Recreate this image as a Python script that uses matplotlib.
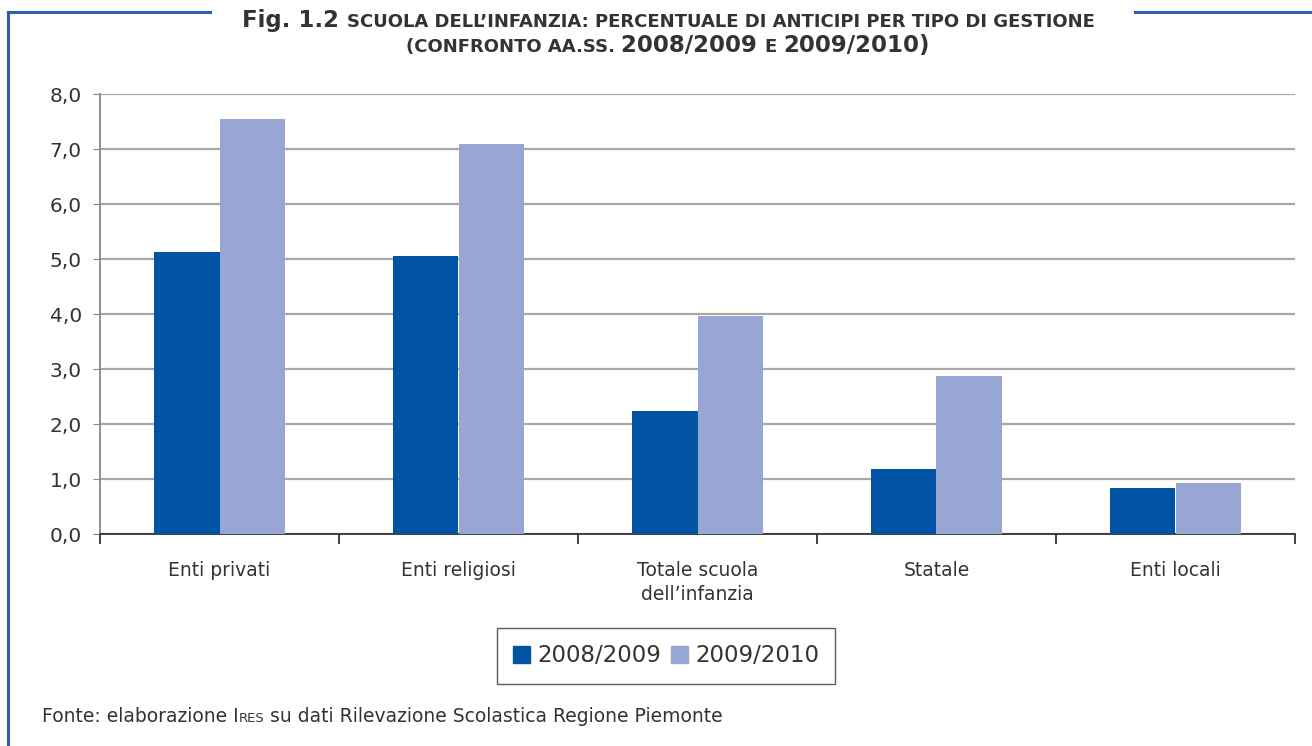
import matplotlib
matplotlib.use("Agg")
import matplotlib.pyplot as plt
import numpy as np
from matplotlib.patches import Patch
from matplotlib.lines import Line2D

plt.rcParams["font.family"] = ["DejaVu Sans"]

categories = ["Enti privati", "Enti religiosi", "Totale scuola\ndell\u2019infanzia", "Statale", "Enti locali"]
series_names = ["2008/2009", "2009/2010"]
values_0809 = [5.13, 5.05, 2.24, 1.18, 0.84]
values_0910 = [7.55, 7.09, 3.96, 2.87, 0.93]
yticks = [0, 1, 2, 3, 4, 5, 6, 7, 8]
ytick_labels = ["0,0", "1,0", "2,0", "3,0", "4,0", "5,0", "6,0", "7,0", "8,0"]

DARK = "#0054a3"
LIGHT = "#97a6d2"
FRAME = "#2a62ac"
TEXT = "#333333"

W, H = 1312, 746
fig = plt.figure(figsize=(W / 100, H / 100), dpi=100)
ax = fig.add_axes([100 / W, 1 - 534 / H, 1195 / W, 440 / H])

x = np.arange(len(categories))
bw = 0.272
ax.bar(x - bw / 2, values_0809, bw, color=DARK, zorder=3, label=series_names[0])
ax.bar(x + bw / 2, values_0910, bw, color=LIGHT, zorder=3, label=series_names[1])

ax.set_xlim(-0.5, len(categories) - 0.5)
ax.set_ylim(0, 8)
ax.set_yticks(yticks)
ax.set_yticklabels(ytick_labels, fontsize=14.5, color=TEXT)
ax.yaxis.grid(True, color="#a8a8a8", lw=1.6, zorder=0)
ax.tick_params(axis="y", length=5, color="#888888", pad=8)

# category labels between boundary ticks
ax.set_xticks(np.arange(len(categories) + 1) - 0.5)
ax.set_xticklabels([])
ax.tick_params(axis="x", length=7, width=1.3, color="#333333")
for i, lab in enumerate(categories):
    ax.text(i, -0.5, lab, ha="center", va="top", fontsize=13.5, color=TEXT,
            transform=ax.transData, linespacing=1.3)

for s in ["top", "right"]:
    ax.spines[s].set_visible(False)
ax.spines["left"].set_color("#888888")
ax.spines["left"].set_linewidth(1.3)
ax.spines["bottom"].set_color("#333333")
ax.spines["bottom"].set_linewidth(1.3)

handles = [Patch(color=DARK), Patch(color=LIGHT)]
leg = fig.legend(handles, series_names, loc="center", ncol=2,
                 bbox_to_anchor=(666 / W, 1 - 656 / H), fontsize=16.5,
                 frameon=True, fancybox=False, edgecolor="#333333",
                 handlelength=0.75, handleheight=0.75, handletextpad=0.3,
                 columnspacing=0.45, borderpad=0.7, labelcolor=TEXT)
leg.get_frame().set_linewidth(1.0)

# frame lines
fig.add_artist(Line2D([8 / W, 8 / W], [0, 1 - 12 / H], color=FRAME, lw=2.2))
fig.add_artist(Line2D([8 / W, 210 / W], [1 - 12 / H, 1 - 12 / H], color=FRAME, lw=2.2))
fig.add_artist(Line2D([1135 / W, 1.0], [1 - 12 / H, 1 - 12 / H], color=FRAME, lw=2.2))


def draw_line(pieces, y, center=None, left=None, bold=False):
    # pieces: (text, fontsize); lay them out one after another
    renderer = fig.canvas.get_renderer()
    arts = []
    for txt, size in pieces:
        t = fig.text(0, y, txt, fontsize=size, fontweight="bold" if bold else "normal",
                     color=TEXT, va="baseline")
        arts.append(t)
    widths = [a.get_window_extent(renderer).width for a in arts]
    total = sum(widths)
    pos = (center * W - total / 2) if center is not None else left * W
    for a, w in zip(arts, widths):
        a.set_x(pos / W)
        pos += w


draw_line([("Fig. 1.2 ", 16.5), ("SCUOLA DELL\u2019INFANZIA: PERCENTUALE DI ANTICIPI PER TIPO DI GESTIONE", 13)],
          1 - 27 / H, center=668 / W, bold=True)
draw_line([("(CONFRONTO AA.SS. ", 13), ("2008/2009 ", 16.5), ("E ", 13), ("2009/2010)", 16.5)],
          1 - 52 / H, center=668 / W, bold=True)
draw_line([("Fonte: elaborazione I", 13.5), ("RES", 9.5),
           (" su dati Rilevazione Scolastica Regione Piemonte", 13.5)],
          1 - 722 / H, left=42 / W)

fig.savefig("out.png", dpi=100)
